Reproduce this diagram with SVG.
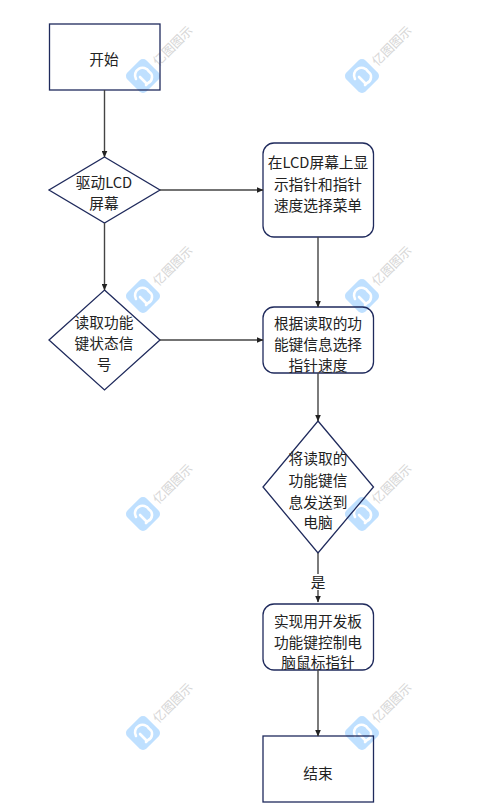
<svg xmlns="http://www.w3.org/2000/svg" width="502" height="812" viewBox="0 0 502 812">
<style>
.s{fill:none;stroke:#1f2a5c;stroke-width:1.3}
.c{fill:none;stroke:#444;stroke-width:1.4}
.t{font-family:"Noto Sans CJK SC","Noto Sans",sans-serif;font-size:14.7px;fill:#222;text-anchor:middle}
.wt{font-family:"Noto Sans CJK SC",sans-serif;font-size:12.500px;fill:#d6d6d6;text-anchor:middle}
</style>
<defs>
<marker id="a" markerWidth="7" markerHeight="6" refX="6.5" refY="3" orient="auto" markerUnits="userSpaceOnUse"><path d="M0 0L7 3L0 6Z" fill="#222"/></marker>
<g id="wm">
<rect x="-13.500" y="-13.500" width="27" height="27" rx="5" transform="rotate(45)" fill="#bfe0ff"/>
<path d="M-7 3A7.500 7.500 0 0 1 6 -4.500A6.500 6.500 0 0 1 5 7L3 9" fill="none" stroke="#fff" stroke-width="2.600" stroke-linecap="round"/>
<path d="M-3 1L3 7" fill="none" stroke="#fff" stroke-width="2.600" stroke-linecap="round"/>
<text class="wt" transform="translate(33,-27) rotate(-45)">亿图图示</text>
</g>
</defs>
<g id="watermarks">
<use href="#wm" x="143" y="76"/><use href="#wm" x="362" y="76"/>
<use href="#wm" x="143" y="296"/><use href="#wm" x="362" y="296"/>
<use href="#wm" x="143" y="514"/><use href="#wm" x="362" y="514"/>
<use href="#wm" x="143" y="733"/><use href="#wm" x="362" y="733"/>
</g>
<g id="nodes">
<g id="start"><rect class="s" x="49.500" y="24" width="110.500" height="66"/><text class="t" x="104" y="65">开始</text></g>
<g id="n1"><path class="s" d="M104.500 157L160 190L104.500 223L49 190Z"/><text class="t" x="104" y="188">驱动LCD</text><text class="t" x="104" y="209">屏幕</text></g>
<g id="n2"><path class="s" d="M104.500 290L160 340L104.500 390L49 340Z"/><text class="t" x="104" y="328">读取功能</text><text class="t" x="104" y="349">键状态信</text><text class="t" x="104" y="370">号</text></g>
<g id="n3"><rect class="s" x="263" y="143" width="110.500" height="94" rx="11"/><text class="t" x="318" y="168">在LCD屏幕上显</text><text class="t" x="318" y="190">示指针和指针</text><text class="t" x="318" y="211">速度选择菜单</text></g>
<g id="n4"><rect class="s" x="263" y="307" width="110.500" height="66" rx="11"/><text class="t" x="318" y="329">根据读取的功</text><text class="t" x="318" y="350">能键信息选择</text><text class="t" x="318" y="371">指针速度</text></g>
<g id="n5"><path class="s" d="M318 421L373.500 487L318 553L263 487Z"/><text class="t" x="318" y="464">将读取的</text><text class="t" x="318" y="486">功能键信</text><text class="t" x="318" y="508">息发送到</text><text class="t" x="318" y="528">电脑</text></g>
<g id="n6"><rect class="s" x="263" y="604" width="110.500" height="66" rx="11"/><text class="t" x="318" y="627">实现用开发板</text><text class="t" x="318" y="648">功能键控制电</text><text class="t" x="318" y="668">脑鼠标指针</text></g>
<g id="end"><rect class="s" x="263" y="736" width="110.500" height="66"/><text class="t" x="318" y="779">结束</text></g>
</g>
<g id="connectors">
<path class="c" marker-end="url(#a)" d="M104.500 90V157"/>
<path class="c" marker-end="url(#a)" d="M104.500 223V290"/>
<path class="c" marker-end="url(#a)" d="M160 190H263"/>
<path class="c" marker-end="url(#a)" d="M160 340H263"/>
<path class="c" marker-end="url(#a)" d="M318 237V307"/>
<path class="c" marker-end="url(#a)" d="M318 373V421"/>
<path class="c" d="M318 553V574"/>
<path class="c" marker-end="url(#a)" d="M318 590V602"/>
<path class="c" marker-end="url(#a)" d="M318 670V736"/>
<text class="t" x="318" y="588">是</text>
</g>
</svg>
